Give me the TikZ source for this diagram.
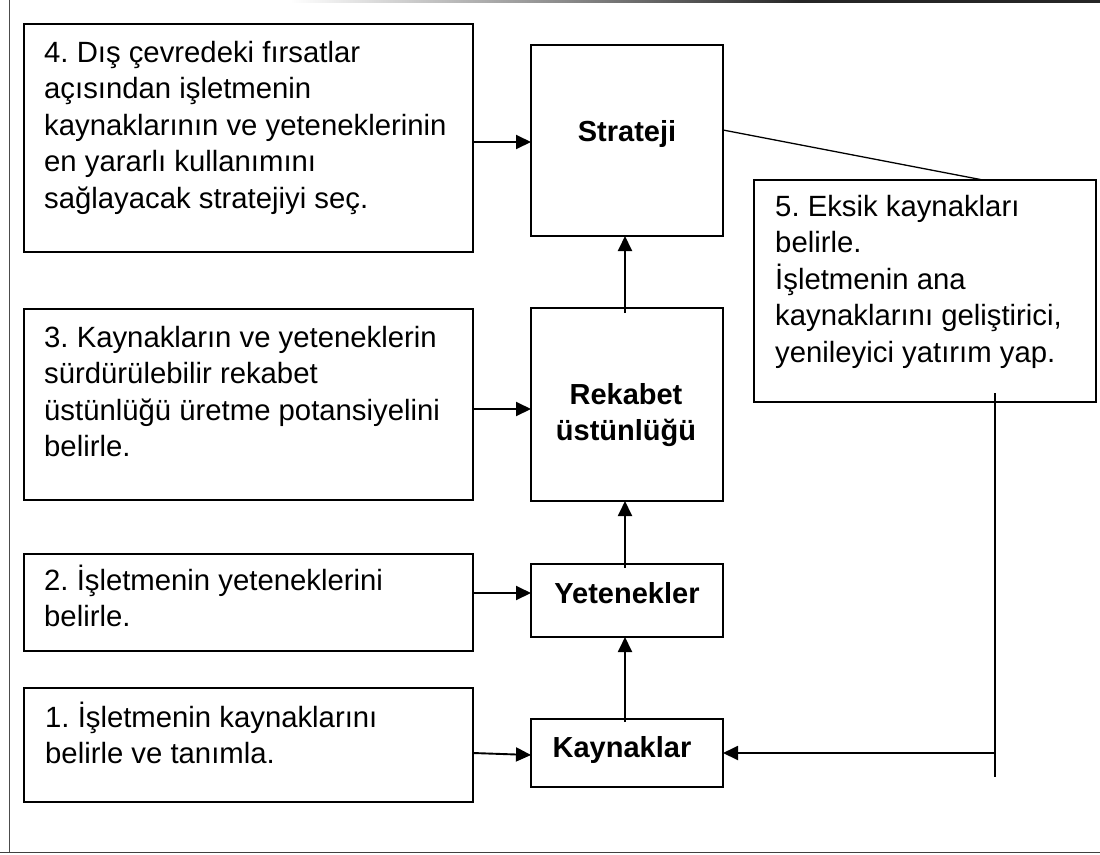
\documentclass[tikz,border=0pt]{standalone}
\usepackage{fontspec}
\setmainfont{Liberation Sans}
\usetikzlibrary{arrows.meta}
\frenchspacing
\newcommand\mlL[1]{\vtop{\frenchspacing\baselineskip=36.5pt\lineskiplimit=-100pt\lineskip=0pt\halign{##\hfil\cr#1\crcr}}}
\newcommand\mlC[1]{\vtop{\baselineskip=36pt\lineskiplimit=-100pt\lineskip=0pt\halign{\hfil##\hfil\cr#1\crcr}}}
\tikzset{
  boxs/.style={draw, line width=1.9pt, inner sep=0pt, outer sep=0pt},
  txt/.style={inner sep=0pt, anchor=base west},
  lbl/.style={inner sep=0pt, anchor=base, font=\fontsize{29}{36}\selectfont\bfseries},
  arr/.style={line width=1.9pt, -{Triangle[length=15pt,width=14pt]}},
  thinln/.style={line width=1.3pt},
}
\begin{document}
\begin{tikzpicture}[x=1pt, y=-1pt, font=\fontsize{29.3}{36.5}\selectfont]
\useasboundingbox (0,0) rectangle (1100,854);
% frame
\shade[left color=white, right color=black!85] (290,0) rectangle (800,2.5);
\fill[black!85] (800,0) rectangle (1100,2.5);
\draw[line width=1.3pt, black!70] (9.5,0) -- (9.5,853);
\draw[line width=1.5pt, black!75] (0,852.5) -- (1100,852.5);
% boxes
\node[boxs, minimum width=449pt, minimum height=228pt] (b4) at (248.5,138) {};
\node[boxs, minimum width=449pt, minimum height=191pt] (b3) at (248.5,404.5) {};
\node[boxs, minimum width=449pt, minimum height=97pt] (b2) at (248.5,602.5) {};
\node[boxs, minimum width=449pt, minimum height=114pt] (b1) at (248.5,745) {};
\node[boxs, minimum width=342pt, minimum height=222pt] (b5) at (925,291) {};
\node[boxs, minimum width=192pt, minimum height=191pt] (strat) at (627,140.5) {};
\node[boxs, minimum width=192pt, minimum height=193pt] (rek) at (627,404.5) {};
\node[boxs, minimum width=192pt, minimum height=73pt] (yet) at (627,600.5) {};
\node[boxs, minimum width=192pt, minimum height=68pt] (kay) at (627,753) {};
% texts
\node[txt] (t4) at (44,62) {\mlL{4. Dış çevredeki fırsatlar\cr açısından işletmenin\cr kaynaklarının ve yeteneklerinin\cr en yararlı kullanımını\cr sağlayacak stratejiyi seç.}};
\node[txt] (t3) at (44,347) {\mlL{3. Kaynakların ve yeteneklerin\cr sürdürülebilir rekabet\cr üstünlüğü üretme potansiyelini\cr belirle.}};
\node[txt] (t2) at (44,590) {\mlL{2. İşletmenin yeteneklerini\cr belirle.}};
\node[txt] (t1) at (45,727) {\mlL{1. İşletmenin kaynaklarını\cr belirle ve tanımla.}};
\node[txt] (t5) at (775,216) {\mlL{5. Eksik kaynakları\cr belirle.\cr İşletmenin ana\cr kaynaklarını geliştirici,\cr yenileyici yatırım yap.}};
\node[lbl] (ls) at (627,141) {Strateji};
\node[lbl] (lr) at (626,404) {\mlC{Rekabet\cr üstünlüğü}};
\node[lbl] (ly) at (627,603) {Yetenekler};
\node[lbl] (lk) at (622,757) {Kaynaklar};
% connectors
\draw[arr] ([yshift=-4pt]b4.east) -- ([yshift=-4pt]b4.east -| strat.west);
\draw[arr] ([yshift=-4.5pt]b3.east) -- ([yshift=-4.5pt]b3.east -| rek.west);
\draw[arr] ([yshift=9.5pt]b2.east) -- ([yshift=9.5pt]b2.east -| yet.west);
\draw[arr] ([yshift=-8pt]b1.east) -- ([yshift=-2pt]kay.west);
\draw[arr] ([xshift=-2pt,yshift=-5pt]rek.north) -- ([xshift=-2pt]strat.south);
\draw[arr] ([xshift=-2pt,yshift=-4pt]yet.north) -- ([xshift=-2pt]rek.south);
\draw[arr] ([xshift=-2pt,yshift=-3pt]kay.north) -- ([xshift=-2pt]yet.south);
\draw[thinln] ([yshift=10.5pt]strat.east) -- ([xshift=58pt]b5.north);
\coordinate (vt) at (995,393);
\coordinate (vb) at (995,777);
\coordinate (jn) at (995,753);
\draw[line width=1.9pt] (vt) -- (vb);
\draw[arr] (jn) -- (jn -| kay.east);
\end{tikzpicture}
\end{document}
